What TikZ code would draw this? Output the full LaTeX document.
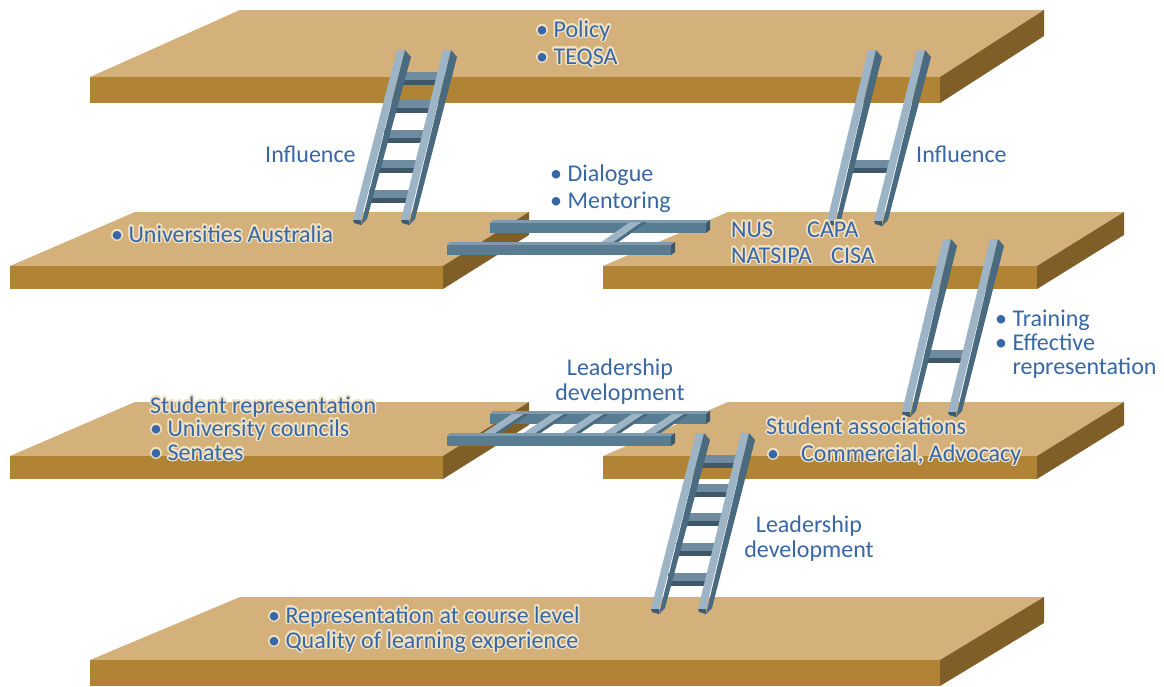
\documentclass[tikz,border=0pt]{standalone}
\usepackage{fontspec}
\setmainfont{Carlito}
\usepackage{contour}
\contourlength{1.5pt}
\contournumber{20}
\definecolor{slabtop}{HTML}{D4B17B}
\definecolor{slabfront}{HTML}{B08434}
\definecolor{slabside}{HTML}{7F5E28}
\definecolor{raillight}{HTML}{9CB4C5}
\definecolor{raildark}{HTML}{4A6A7F}
\definecolor{railcap}{HTML}{3E5A6D}
\definecolor{rungmid}{HTML}{6E8B9F}
\definecolor{rungdark}{HTML}{3E586A}
\definecolor{bartop}{HTML}{7E9BAE}
\definecolor{barfront}{HTML}{587C92}
\definecolor{barend}{HTML}{3C586A}
\definecolor{txtblue}{HTML}{3767A6}
\definecolor{glowc}{HTML}{F1E2C4}
\tikzset{
  txt/.style={font=\fontsize{24}{26}\selectfont, text=txtblue, inner sep=0pt, anchor=base west},
  ctxt/.style={txt, anchor=base},
}
\newcommand\glow[1]{\contour{glowc}{#1}}
% slab: front-left x, front-right x, back-right x, back-left x, y front, y back, thickness
\newcommand\slab[7]{%
  \fill[slabtop] (#1,#5) -- (#2,#5) -- (#3,#6) -- (#4,#6) -- cycle;
  \fill[slabfront] (#1,#5) rectangle (#2,#5+#7);
  \fill[slabside] (#2,#5) -- (#3,#6) -- (#3,#6+#7) -- (#2,#5+#7) -- cycle;
}
% vertical rail: x top, y top, x bottom, y bottom
\newcommand\railV[4]{%
  \fill[raillight] (#1,#2) -- (#1+8,#2) -- (#3+8,#4) -- (#3,#4) -- cycle;
  \fill[raildark] (#1+8,#2) -- (#1+14,#2+7) -- (#3+14,#4-1) -- (#3+8,#4+5) -- cycle;
  \fill[railcap] (#3,#4) -- (#3+8,#4) -- (#3+8,#4+5) -- (#3+1,#4+3) -- cycle;
}
\newcommand\setlad[6]{\def\lxtl{#1}\def\lxbl{#2}\def\lxtr{#3}\def\lxbr{#4}\def\lyt{#5}\def\lyb{#6}}
\newcommand\ladrung[1]{%
  \pgfmathsetmacro\rgl{\lxtl+(\lxbl-\lxtl)*(#1-\lyt)/(\lyb-\lyt)+8}%
  \pgfmathsetmacro\rgr{\lxtr+(\lxbr-\lxtr)*(#1-\lyt)/(\lyb-\lyt)+4}%
  \fill[rungmid] (\rgl,#1) rectangle (\rgr,#1+8);
  \fill[rungdark] (\rgl,#1+8) rectangle (\rgr,#1+13);
}
\newcommand\vladder[7]{%
  \setlad{#1}{#2}{#3}{#4}{#5}{#6}%
  \foreach \r in {#7} {\ladrung{\r}}
  \railV{#1}{#5}{#2}{#6}
  \railV{#3}{#5}{#4}{#6}
}
% horizontal bar: x left, x right, y top
\newcommand\bridgebar[3]{%
  \fill[bartop] (#1+3,#3) -- (#2+4,#3) -- (#2,#3+3) -- (#1,#3+3) -- cycle;
  \fill[barfront] (#1,#3+3) rectangle (#2,#3+13);
  \fill[barend] (#2,#3+3) -- (#2+4,#3) -- (#2+4,#3+10) -- (#2,#3+13) -- cycle;
}
% flat rung: x top-left, y top, y bottom
\newcommand\flatrung[3]{%
  \fill[raillight] (#1,#2) -- (#1+12,#2) -- (#1-18,#3) -- (#1-30,#3) -- cycle;
  \fill[raildark] (#1+12,#2) -- (#1+17,#2) -- (#1-13,#3) -- (#1-18,#3) -- cycle;
}
\begin{document}
\begin{tikzpicture}[x=1pt,y=-1pt]
\useasboundingbox (0,0) rectangle (1164,686);
\fill[white] (0,0) rectangle (1164,686);

% slabs, level 1 and 2
\slab{90}{940}{1044}{240}{77}{10}{26}
\slab{10}{443}{529}{135}{266}{212}{23}
\slab{603}{1037}{1124}{728}{266}{212}{23}

% bridge, level 2
\bridgebar{490}{706}{220}
\flatrung{630}{222}{243}
\bridgebar{447}{671}{242}

% ladders between level 1 and 2
\vladder{397}{353}{443}{401}{50}{220}{72,100,130,160,190}
\vladder{868}{827}{917}{874}{50}{221}{160}

% slabs, level 3
\slab{10}{443}{529}{135}{456}{402}{23}
\slab{603}{1037}{1124}{728}{456}{402}{23}

% bridge, level 3
\bridgebar{490}{706}{411}
\foreach \k in {0,...,4} {\flatrung{512+40*\k}{414}{434}}
\bridgebar{447}{671}{433}

% bottom slab
\slab{90}{940}{1044}{240}{660}{597}{26}

% ladders level 2-3 and 3-4
\vladder{943}{902}{990}{948}{239}{412}{350}
\vladder{696}{651}{741}{698}{433}{609}{455,484,513,543,573}

% texts
\node[txt] (policy) at (536,37) {\glow{• Policy}};
\node[txt] (teqsa) at (536,64) {\glow{• TEQSA}};
\node[txt] (inflL) at (265,162) {Influence};
\node[txt] (inflR) at (916,162) {Influence};
\node[txt] (dial) at (550,181) {• Dialogue};
\node[txt] (ment) at (550,208) {• Mentoring};
\node[txt] (ua) at (111,242) {\glow{• Universities Australia}};
\node[txt] (nus) at (731,237) {\glow{NUS}};
\node[txt] (capa) at (807,237) {\glow{CAPA}};
\node[txt] (natsipa) at (731,263) {\glow{NATSIPA}};
\node[txt] (cisa) at (831,263) {\glow{CISA}};
\node[txt] (train) at (995,326) {• Training};
\node[txt] (effect) at (995,350) {• Effective};
\node[txt] (repr) at (995,374) {\phantom{• }representation};
\node[ctxt] (lead1) at (620,375) {Leadership};
\node[ctxt] (dev1) at (620,400) {development};
\node[txt] (srep) at (150,413) {\glow{Student representation}};
\node[txt] (ucoun) at (150,436) {\glow{• University councils}};
\node[txt] (sen) at (150,460) {\glow{• Senates}};
\node[txt] (sassoc) at (766,434) {\glow{Student associations}};
\node[txt] (comm) at (767,461) {\glow{•\hspace{22pt}Commercial, Advocacy}};
\node[ctxt] (lead2) at (809,532) {Leadership};
\node[ctxt] (dev2) at (809,557) {development};
\node[txt] (course) at (268,623) {\glow{• Representation at course level}};
\node[txt] (qual) at (268,648) {\glow{• Quality of learning experience}};
\end{tikzpicture}
\end{document}
